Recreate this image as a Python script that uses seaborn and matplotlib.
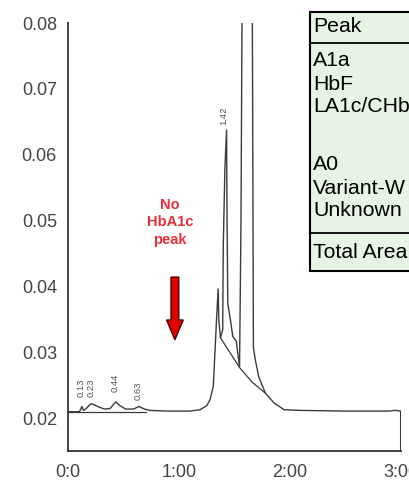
import matplotlib
matplotlib.use("Agg")
import matplotlib.pyplot as plt
import seaborn as sns
import pandas as pd
from matplotlib.patches import Rectangle, FancyArrow
from matplotlib.lines import Line2D

# ---------------- data ----------------
time_min = [0.000, 0.100, 0.110, 0.125, 0.140, 0.165, 0.205, 0.230, 0.280, 0.330,
            0.380, 0.430, 0.470, 0.520, 0.590, 0.640, 0.690, 0.740, 0.900, 1.100,
            1.190, 1.250, 1.280, 1.310, 1.325, 1.340, 1.354, 1.360, 1.375, 1.395,
            1.400, 1.415, 1.430, 1.434, 1.441, 1.465, 1.486, 1.517, 1.547, 1.560,
            1.572, 1.660, 1.665, 1.672, 1.690, 1.720, 1.780, 1.860, 1.950, 2.100,
            2.500, 2.900, 2.940, 2.960, 2.990, 3.000, 3.000]
absorbance = [0.0211, 0.0211, 0.0213, 0.0219, 0.0213, 0.0216, 0.0223, 0.0222, 0.0218, 0.0215,
              0.0216, 0.0226, 0.0220, 0.0215, 0.0215, 0.0219, 0.0215, 0.0213, 0.0212, 0.0212,
              0.0214, 0.0220, 0.0229, 0.0249, 0.0300, 0.0353, 0.0397, 0.0350, 0.0323, 0.0335,
              0.0460, 0.0580, 0.0638, 0.0510, 0.0375, 0.0350, 0.0325, 0.0318, 0.0279, 0.0500,
              0.0900, 0.0900, 0.0686, 0.0308, 0.0289, 0.0264, 0.0239, 0.0224, 0.0214, 0.0213,
              0.0212, 0.0212, 0.0213, 0.0213, 0.0212, 0.0212, 0.0150]

early_base_t = [0.00, 0.70]
early_base_v = [0.0211, 0.0211]
main_base_t = [1.375, 1.547, 1.660, 1.780]
main_base_v = [0.0323, 0.0278, 0.0256, 0.0239]

peak_labels = ["0.13", "0.23", "0.44", "0.63", "1.42"]
peak_label_t = [0.118, 0.205, 0.423, 0.630, 1.405]
peak_label_v = [0.0247, 0.0247, 0.0255, 0.0242, 0.0660]

xtick_vals = [0, 1, 2, 3]
xtick_labels = ["0:0", "1:00", "2:00", "3:00"]
ytick_vals = [0.02, 0.03, 0.04, 0.05, 0.06, 0.07, 0.08]
ytick_labels = ["0.02", "0.03", "0.04", "0.05", "0.06", "0.07", "0.08"]
yminor_vals = [0.025, 0.035, 0.045, 0.055, 0.065, 0.075]

note_text = "No\nHbA1c\npeak"
table_rows = ["Peak", "A1a", "HbF", "LA1c/CHb", "A0", "Variant-W", "Unknown", "Total Area"]
table_row_px = [27, 60, 84, 107, 165, 188, 211, 252]

# ---------------- figure ----------------
sns.set_style("white")
plt.rcParams['font.family'] = ['Liberation Sans', 'DejaVu Sans']

W, H = 409, 482
fig = plt.figure(figsize=(W / 100, H / 100), dpi=100)
ax = fig.add_axes([68 / W, 1 - 451 / H, (401 - 68) / W, (451 - 23) / H])

df = pd.DataFrame({"t": time_min, "v": absorbance})
sns.lineplot(data=df, x="t", y="v", sort=False, estimator=None, ax=ax,
             color="#3a3a3a", linewidth=1.0)
sns.lineplot(x=early_base_t, y=early_base_v, sort=False, estimator=None, ax=ax,
             color="#3a3a3a", linewidth=0.9)
sns.lineplot(x=main_base_t, y=main_base_v, sort=False, estimator=None, ax=ax,
             color="#3a3a3a", linewidth=0.9)

ax.set_xlim(0, 3.003)
ax.set_ylim(0.01515, 0.08)
ax.set_xlabel("")
ax.set_ylabel("")

for s in ["top", "right"]:
    ax.spines[s].set_visible(False)
for s in ["left", "bottom"]:
    ax.spines[s].set_color("#333333")
    ax.spines[s].set_linewidth(1.3)

ax.set_xticks(xtick_vals)
ax.set_xticklabels(xtick_labels)
ax.set_yticks(ytick_vals)
ax.set_yticklabels(ytick_labels)
ax.set_yticks(yminor_vals, minor=True)
ax.tick_params(axis="y", which="major", direction="inout", length=6, width=1.1,
               color="#333333", labelsize=13, labelcolor="#444444", pad=5)
ax.tick_params(axis="y", which="minor", direction="inout", length=4, width=1.1,
               color="#333333")
ax.tick_params(axis="x", which="major", direction="inout", length=4, width=1.1,
               color="#333333", labelsize=13, labelcolor="#444444", pad=7.5)

for lab, t, v in zip(peak_labels, peak_label_t, peak_label_v):
    ax.text(t, v, lab, rotation=90, ha="center", va="center", fontsize=6.8,
            color="#555555")

ax.text(0.92, 0.0498, note_text, ha="center", va="center", fontsize=10.5,
        fontweight="bold", color="#e8303a", linespacing=1.3)
ax.add_patch(FancyArrow(0.964, 0.0415, 0, -(0.0415 - 0.0320), width=0.07,
                        head_width=0.15, head_length=0.003,
                        length_includes_head=True, facecolor="#e00000",
                        edgecolor="#4a0000", linewidth=1.0))

# ---------------- table box ----------------
x0 = 310 / W
top = 1 - 12 / H
bot = 1 - 271 / H
fig.patches.append(Rectangle((x0, bot), 1.2 - x0, top - bot, transform=fig.transFigure,
                             facecolor="#e6f4e4", edgecolor="black", linewidth=1.5,
                             zorder=5))
for ypx in [43, 233]:
    fig.lines.append(Line2D([x0, 1.2], [1 - ypx / H, 1 - ypx / H],
                            transform=fig.transFigure, color="black", linewidth=1.3,
                            zorder=6))
for txt, ypx in zip(table_rows, table_row_px):
    fig.text(313 / W, 1 - ypx / H, txt, ha="left", va="center", fontsize=15.3,
             color="black", zorder=7)

fig.savefig("out.png", dpi=100)
